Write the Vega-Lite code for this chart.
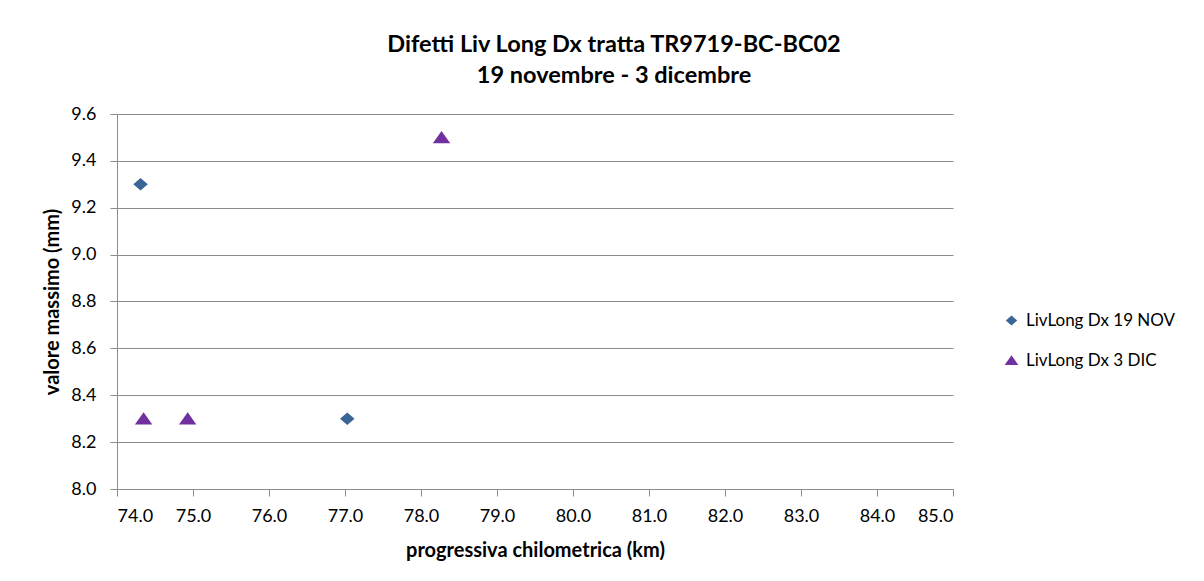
{
  "$schema": "https://vega.github.io/schema/vega-lite/v6.json",
  "autosize": "none",
  "width": 836,
  "height": 375,
  "padding": {"left": 117, "top": 114, "right": 251, "bottom": 92},
  "background": "white",
  "config": {
    "font": "Lato",
    "view": {"stroke": null},
    "axis": {
      "labelFont": "Lato",
      "labelFontSize": 18,
      "labelColor": "#000000",
      "titleFont": "Lato",
      "titleFontSize": 20,
      "titleFontWeight": "bold",
      "titleColor": "#000000",
      "domainColor": "#8c8c8c",
      "tickColor": "#8c8c8c",
      "gridColor": "#8c8c8c",
      "tickSize": 7
    }
  },
  "title": {
    "text": ["Difetti Liv Long Dx tratta TR9719-BC-BC02", "19 novembre - 3 dicembre"],
    "font": "Lato",
    "fontSize": 23.5,
    "fontWeight": "bold",
    "color": "#000000",
    "anchor": "middle",
    "dx": 79,
    "offset": 18,
    "lineHeight": 31
  },
  "data": {
    "values": [
      {"km": 74.31, "valore": 9.3, "serie": "LivLong Dx 19 NOV"},
      {"km": 77.03, "valore": 8.3, "serie": "LivLong Dx 19 NOV"},
      {"km": 74.35, "valore": 8.3, "serie": "LivLong Dx 3 DIC"},
      {"km": 74.93, "valore": 8.3, "serie": "LivLong Dx 3 DIC"},
      {"km": 78.27, "valore": 9.5, "serie": "LivLong Dx 3 DIC"}
    ]
  },
  "mark": {"type": "point", "filled": true, "opacity": 1, "size": 210},
  "encoding": {
    "x": {
      "field": "km",
      "type": "quantitative",
      "title": "progressiva chilometrica (km)",
      "scale": {"domain": [74, 85], "nice": false, "zero": false},
      "axis": {"values": [74, 75, 76, 77, 78, 79, 80, 81, 82, 83, 84, 85], "format": ".1f", "grid": false, "labelPadding": 11, "titlePadding": 15}
    },
    "y": {
      "field": "valore",
      "type": "quantitative",
      "title": "valore massimo (mm)",
      "scale": {"domain": [8.0, 9.6], "nice": false, "zero": false},
      "axis": {"values": [8.0, 8.2, 8.4, 8.6, 8.8, 9.0, 9.2, 9.4, 9.6], "format": ".1f", "grid": true, "labelPadding": 14, "titlePadding": 8}
    },
    "color": {
      "field": "serie",
      "type": "nominal",
      "title": null,
      "scale": {"domain": ["LivLong Dx 19 NOV", "LivLong Dx 3 DIC"], "range": ["#3b6597", "#7030a0"]},
      "legend": {
        "orient": "none",
        "legendX": 886,
        "legendY": 198,
        "labelFont": "Lato",
        "labelFontSize": 17,
        "labelColor": "#000000",
        "rowPadding": 22,
        "symbolSize": 130,
        "labelOffset": 6
      }
    },
    "shape": {
      "field": "serie",
      "type": "nominal",
      "title": null,
      "scale": {
        "domain": ["LivLong Dx 19 NOV", "LivLong Dx 3 DIC"],
        "range": ["M0,-0.86L1,0L0,0.86L-1,0Z", "M-1.2,0.8L1.2,0.8L0,-0.9Z"]
      }
    }
  }
}
